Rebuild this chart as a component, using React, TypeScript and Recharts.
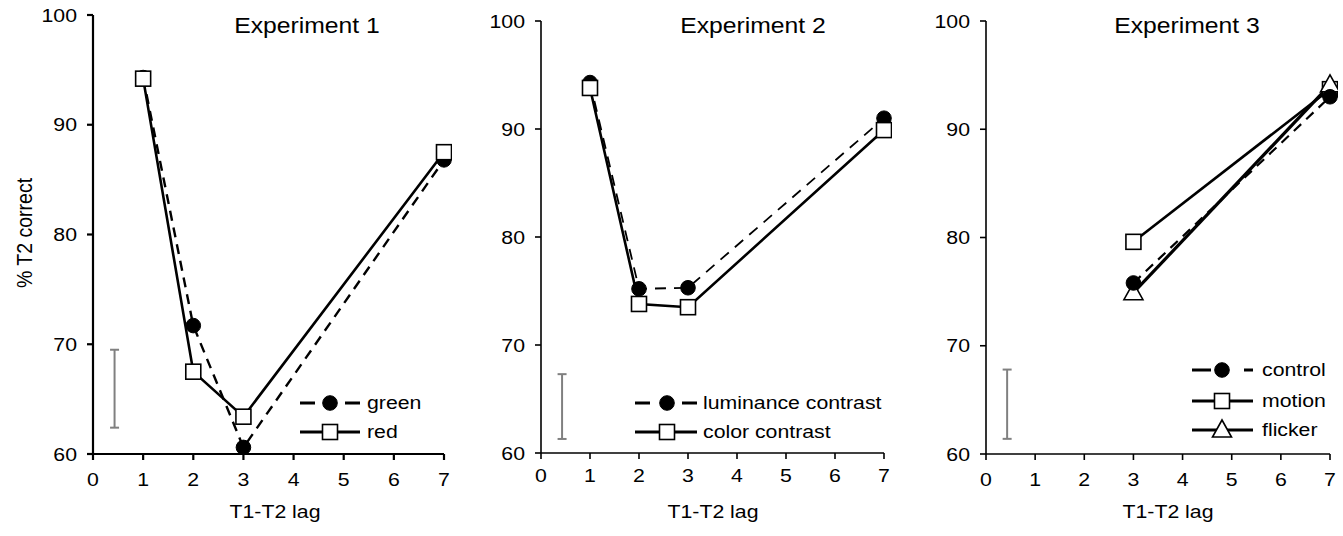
import React from "react";
import { ComposedChart, Line, Scatter, ErrorBar, XAxis, YAxis } from "recharts";

// ---- data ----
const LAGS_12 = [1, 2, 3, 7];
const LAGS_3 = [3, 7];
const X_TICKS = [0, 1, 2, 3, 4, 5, 6, 7];
const Y_TICKS = [60, 70, 80, 90, 100];

const EXP1_GREEN = [94.3, 71.7, 60.6, 86.8];
const EXP1_RED = [94.2, 67.5, 63.4, 87.5];

const EXP2_LUMINANCE = [94.3, 75.2, 75.3, 91.0];
const EXP2_COLOR = [93.8, 73.8, 73.5, 89.9];

const EXP3_CONTROL = [75.8, 93.0];
const EXP3_MOTION = [79.6, 93.7];
const EXP3_FLICKER = [74.9, 94.1];

// error bar shown at lag ~0.43 in each panel: [low, high]
const ERR_LAG = 0.43;
const ERR_RANGES = [
  [62.4, 69.5],
  [61.3, 67.3],
  [61.4, 67.8],
];

const TITLES = ["Experiment 1", "Experiment 2", "Experiment 3"];

// ---- styling ----
const FONT = '"Liberation Sans", Arial, sans-serif';
const SX = 1.15; // the figure's lettering is a bit wide

type Marker = "circle" | "square" | "triangle";

interface Series {
  name: string;
  lags: number[];
  values: number[];
  marker: Marker;
  dash?: string;
  width: number;
}

const PANEL_SERIES: Series[][] = [
  [
    { name: "green", lags: LAGS_12, values: EXP1_GREEN, marker: "circle", dash: "10 7", width: 2.4 },
    { name: "red", lags: LAGS_12, values: EXP1_RED, marker: "square", width: 2.6 },
  ],
  [
    { name: "luminance contrast", lags: LAGS_12, values: EXP2_LUMINANCE, marker: "circle", dash: "11 8", width: 1.8 },
    { name: "color contrast", lags: LAGS_12, values: EXP2_COLOR, marker: "square", width: 2.6 },
  ],
  [
    { name: "motion", lags: LAGS_3, values: EXP3_MOTION, marker: "square", width: 2.6 },
    { name: "flicker", lags: LAGS_3, values: EXP3_FLICKER, marker: "triangle", width: 3.2 },
    { name: "control", lags: LAGS_3, values: EXP3_CONTROL, marker: "circle", dash: "10 7", width: 2.2 },
  ],
];

// chart boxes (page coords): plot area left = left + 93
const PANELS = [
  { left: 0, width: 452, top: 15, bottom: 454, tickGap: 13, axisW: 2.2 },
  { left: 448, width: 444, top: 21, bottom: 453, tickGap: 10, axisW: 1.6 },
  { left: 893, width: 445, top: 21, bottom: 454, tickGap: 13, axisW: 1.6 },
];

const TITLE_POS = [
  { x: 307, y: 33 },
  { x: 753, y: 33 },
  { x: 1187, y: 33 },
];
const XLABEL_POS = [275, 713, 1168];

const LEGENDS = [
  {
    x0: 300, x1: 360, xm: 330, tx: 367, dash: "15 30",
    rows: [
      { name: "green", marker: "circle" as Marker, dashed: true, y: 403 },
      { name: "red", marker: "square" as Marker, dashed: false, y: 432 },
    ],
  },
  {
    x0: 635, x1: 697, xm: 667, tx: 703, dash: "15 32",
    rows: [
      { name: "luminance contrast", marker: "circle" as Marker, dashed: true, y: 403 },
      { name: "color contrast", marker: "square" as Marker, dashed: false, y: 432 },
    ],
  },
  {
    x0: 1192, x1: 1253, xm: 1222, tx: 1262, dash: "19 33",
    rows: [
      { name: "control", marker: "circle" as Marker, dashed: true, y: 370 },
      { name: "motion", marker: "square" as Marker, dashed: false, y: 401 },
      { name: "flicker", marker: "triangle" as Marker, dashed: false, y: 430 },
    ],
  },
];

function MarkerShape({ kind, cx, cy }: { kind: Marker; cx: number; cy: number }) {
  if (kind === "circle") return <circle cx={cx} cy={cy} r={7.3} fill="#000" stroke="#000" />;
  if (kind === "square")
    return <rect x={cx - 7.5} y={cy - 7.5} width={15} height={15} fill="#fff" stroke="#000" strokeWidth={1.6} />;
  return (
    <polygon
      points={`${cx},${cy - 10} ${cx - 9.5},${cy + 7} ${cx + 9.5},${cy + 7}`}
      fill="#fff"
      stroke="#000"
      strokeWidth={1.6}
    />
  );
}

const YTick = (props: any) => {
  const { x, y, payload } = props;
  return (
    <g transform={`translate(${x},${y})`}>
      <text transform={`scale(${SX},1)`} textAnchor="end" dy="0.36em" fontSize={18.5} fontFamily={FONT} fill="#000">
        {payload.value}
      </text>
    </g>
  );
};

const XTick = (props: any) => {
  const { x, y, payload } = props;
  return (
    <g transform={`translate(${x},${y})`}>
      <text transform={`scale(${SX},1)`} textAnchor="middle" dy="0.71em" fontSize={18.5} fontFamily={FONT} fill="#000">
        {payload.value}
      </text>
    </g>
  );
};

function Panel({ idx }: { idx: number }) {
  const p = PANELS[idx];
  const [lo, hi] = ERR_RANGES[idx];
  const errData = [{ lag: ERR_LAG, pct: (lo + hi) / 2, err: (hi - lo) / 2 }];
  const xAxisH = 40;
  const axisStyle = { stroke: "#000", strokeWidth: p.axisW };

  return (
    <div style={{ position: "absolute", left: p.left, top: 0 }}>
      <ComposedChart
        width={p.width}
        height={536}
        margin={{ top: p.top, left: 43, right: 8, bottom: 536 - p.bottom - xAxisH }}
      >
        <XAxis
          type="number"
          dataKey="lag"
          domain={[0, 7]}
          ticks={X_TICKS}
          interval={0}
          height={xAxisH}
          tickSize={6}
          tickMargin={p.tickGap}
          axisLine={axisStyle}
          tickLine={axisStyle}
          tick={<XTick />}
        />
        <YAxis
          type="number"
          dataKey="pct"
          domain={[60, 100]}
          ticks={Y_TICKS}
          interval={0}
          width={50}
          tickSize={6}
          tickMargin={10}
          axisLine={axisStyle}
          tickLine={axisStyle}
          tick={<YTick />}
        />
        <Scatter data={errData} isAnimationActive={false} shape={() => <g />}>
          <ErrorBar dataKey="err" direction="y" width={4.5} stroke="#808080" strokeWidth={2} />
        </Scatter>
        {PANEL_SERIES[idx].map((s) => (
          <Line
            key={s.name}
            data={s.lags.map((lag, i) => ({ lag, pct: s.values[i] }))}
            dataKey="pct"
            type="linear"
            stroke="#000"
            strokeWidth={s.width}
            strokeDasharray={s.dash}
            isAnimationActive={false}
            dot={(d: any) => <MarkerShape key={`${s.name}-${d.index}`} kind={s.marker} cx={d.cx} cy={d.cy} />}
            activeDot={false}
          />
        ))}
      </ComposedChart>
    </div>
  );
}

function Txt({ x, y, size, anchor = "start", rotate, children }: any) {
  return (
    <text
      transform={`translate(${x} ${y}) scale(${SX} 1)${rotate ? " rotate(-90)" : ""}`}
      fontSize={size}
      fontFamily={FONT}
      textAnchor={anchor}
      fill="#000"
    >
      {children}
    </text>
  );
}

export default function App() {
  return (
    <div style={{ position: "absolute", left: 0, top: 0, width: 1343, height: 536, background: "#fff" }}>
      {[0, 1, 2].map((i) => (
        <Panel key={i} idx={i} />
      ))}
      <svg
        width={1343}
        height={536}
        style={{ position: "absolute", left: 0, top: 0, pointerEvents: "none" }}
      >
        {TITLES.map((t, i) => (
          <Txt key={t} x={TITLE_POS[i].x} y={TITLE_POS[i].y} size={21.5} anchor="middle">
            {t}
          </Txt>
        ))}
        {XLABEL_POS.map((x, i) => (
          <Txt key={i} x={x} y={518} size={18.5} anchor="middle">
            T1-T2 lag
          </Txt>
        ))}
        <Txt x={32} y={233} size={19.5} anchor="middle" rotate>
          % T2 correct
        </Txt>
        {LEGENDS.map((lg, i) => (
          <g key={i}>
            {lg.rows.map((r) => (
              <g key={r.name}>
                <line
                  x1={lg.x0}
                  x2={lg.x1}
                  y1={r.y}
                  y2={r.y}
                  stroke="#000"
                  strokeWidth={2.8}
                  strokeDasharray={r.dashed ? lg.dash : undefined}
                />
                <MarkerShape kind={r.marker} cx={lg.xm} cy={r.y} />
                <Txt x={lg.tx} y={r.y + 6} size={18.5}>
                  {r.name}
                </Txt>
              </g>
            ))}
          </g>
        ))}
      </svg>
    </div>
  );
}
